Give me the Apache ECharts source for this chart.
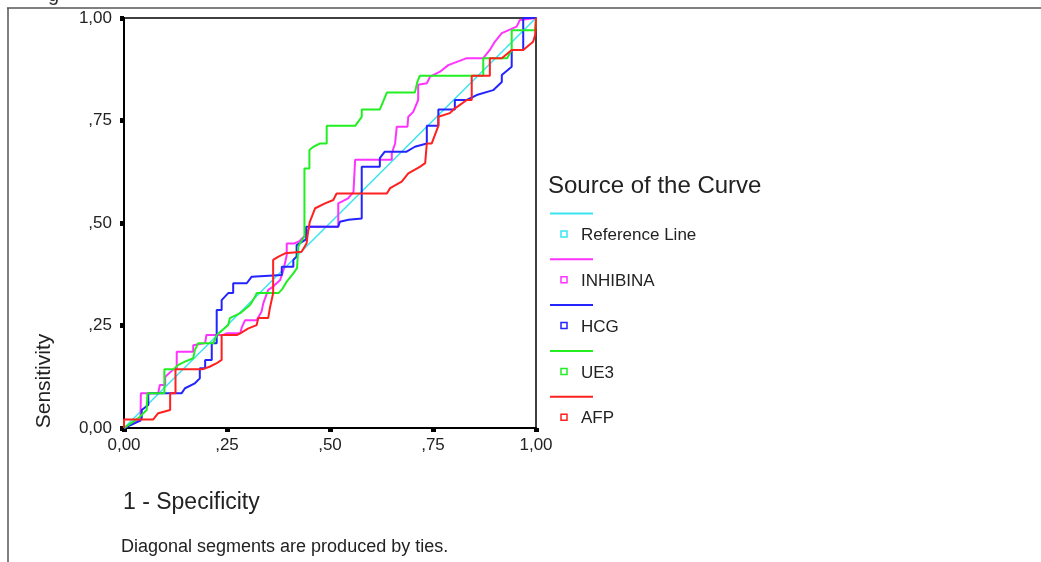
<!DOCTYPE html>
<html>
<head>
<meta charset="utf-8">
<title>ROC Curve</title>
<script src="https://cdn.jsdelivr.net/npm/echarts@6/dist/echarts.min.js"></script>
<style>
  html, body { margin: 0; padding: 0; background: #fff; }
  #chart { width: 1041px; height: 562px; }
</style>
</head>
<body>
<div id="chart"></div>
<script>
// tick labels (SPSS style, comma decimals)
var tickLabels = ['0,00', ',25', ',50', ',75', '1,00'];

var seriesNames = ['Reference Line', 'INHIBINA', 'HCG', 'UE3', 'AFP'];
var seriesColors = ['#3ae4f0', '#ff33ff', '#2424ff', '#22ee22', '#ff2020'];

// [1 - specificity, sensitivity]
var refLine = [[0, 0], [1, 1]];

var inhibina = [[0, 0], [0.04, 0.02], [0.041, 0.085], [0.083, 0.085], [0.087, 0.105], [0.1, 0.105], [0.1, 0.125],
  [0.12, 0.143], [0.128, 0.143], [0.128, 0.186], [0.168, 0.186], [0.168, 0.202], [0.197, 0.207], [0.2, 0.227],
  [0.241, 0.227], [0.249, 0.231], [0.282, 0.231], [0.286, 0.246], [0.294, 0.263], [0.322, 0.263], [0.334, 0.284],
  [0.338, 0.304], [0.35, 0.337], [0.362, 0.345], [0.379, 0.361], [0.387, 0.385], [0.395, 0.422], [0.395, 0.45],
  [0.413, 0.45], [0.425, 0.455], [0.44, 0.47], [0.451, 0.491], [0.52, 0.491], [0.52, 0.548], [0.544, 0.56],
  [0.557, 0.576], [0.561, 0.576], [0.561, 0.654], [0.65, 0.654], [0.65, 0.67], [0.658, 0.694], [0.662, 0.735],
  [0.688, 0.735], [0.69, 0.759], [0.702, 0.771], [0.714, 0.8], [0.714, 0.837], [0.735, 0.841], [0.743, 0.857],
  [0.767, 0.869], [0.787, 0.885], [0.808, 0.893], [0.832, 0.902], [0.872, 0.902], [0.888, 0.922], [0.9, 0.942],
  [0.917, 0.963], [0.953, 0.979], [0.961, 0.995], [1, 1]];

var hcg = [[0, 0], [0.04, 0.018], [0.043, 0.024], [0.043, 0.044], [0.059, 0.056], [0.059, 0.085], [0.14, 0.085],
  [0.148, 0.097], [0.172, 0.109], [0.184, 0.121], [0.184, 0.146], [0.197, 0.146], [0.197, 0.166], [0.213, 0.166],
  [0.213, 0.207], [0.225, 0.207], [0.225, 0.288], [0.237, 0.288], [0.237, 0.312], [0.253, 0.329], [0.265, 0.329],
  [0.265, 0.353], [0.298, 0.353], [0.31, 0.369], [0.383, 0.373], [0.383, 0.393], [0.411, 0.393], [0.411, 0.41],
  [0.419, 0.418], [0.419, 0.446], [0.442, 0.46], [0.442, 0.491], [0.52, 0.491], [0.524, 0.503], [0.545, 0.508],
  [0.577, 0.511], [0.577, 0.637], [0.621, 0.637], [0.621, 0.658], [0.633, 0.674], [0.686, 0.674], [0.706, 0.686],
  [0.735, 0.694], [0.735, 0.737], [0.763, 0.737], [0.763, 0.777], [0.803, 0.777], [0.803, 0.8], [0.832, 0.8],
  [0.856, 0.812], [0.896, 0.824], [0.917, 0.844], [0.917, 0.861], [0.941, 0.881], [0.941, 0.922], [0.969, 0.922],
  [0.969, 1], [1, 1]];

var ue3 = [[0, 0], [0.035, 0.024], [0.055, 0.044], [0.057, 0.085], [0.098, 0.085], [0.098, 0.143], [0.12, 0.143],
  [0.132, 0.154], [0.148, 0.162], [0.168, 0.17], [0.172, 0.19], [0.18, 0.207], [0.217, 0.207], [0.225, 0.227],
  [0.253, 0.251], [0.257, 0.268], [0.282, 0.28], [0.306, 0.3], [0.318, 0.32], [0.322, 0.329], [0.375, 0.329],
  [0.385, 0.34], [0.395, 0.357], [0.411, 0.377], [0.42, 0.39], [0.423, 0.442], [0.427, 0.45], [0.438, 0.467],
  [0.438, 0.633], [0.45, 0.633], [0.45, 0.678], [0.46, 0.686], [0.476, 0.694], [0.492, 0.694], [0.492, 0.737],
  [0.561, 0.737], [0.577, 0.759], [0.577, 0.777], [0.621, 0.777], [0.629, 0.796], [0.638, 0.818], [0.706, 0.818],
  [0.712, 0.844], [0.718, 0.859], [0.872, 0.859], [0.872, 0.902], [0.93, 0.902], [0.941, 0.922], [0.941, 0.97],
  [0.998, 0.97], [1, 1]];

var afp = [[0, 0], [0, 0.021], [0.071, 0.021], [0.083, 0.036], [0.112, 0.044], [0.112, 0.085], [0.125, 0.085],
  [0.125, 0.143], [0.19, 0.143], [0.209, 0.15], [0.225, 0.158], [0.237, 0.166], [0.237, 0.227], [0.275, 0.227],
  [0.282, 0.231], [0.302, 0.243], [0.322, 0.251], [0.326, 0.268], [0.35, 0.268], [0.354, 0.292], [0.362, 0.329],
  [0.362, 0.41], [0.375, 0.418], [0.391, 0.426], [0.431, 0.43], [0.443, 0.45], [0.447, 0.48], [0.451, 0.503],
  [0.464, 0.536], [0.488, 0.548], [0.508, 0.556], [0.516, 0.572], [0.638, 0.572], [0.646, 0.585], [0.674, 0.601],
  [0.69, 0.621], [0.718, 0.637], [0.731, 0.646], [0.735, 0.694], [0.747, 0.694], [0.763, 0.737], [0.763, 0.759],
  [0.791, 0.768], [0.8, 0.777], [0.832, 0.8], [0.844, 0.8], [0.844, 0.859], [0.888, 0.859], [0.888, 0.902],
  [0.917, 0.902], [0.941, 0.922], [0.969, 0.922], [0.993, 0.942], [0.998, 0.959], [1, 1]];

var curves = [refLine, inhibina, hcg, ue3, afp];

var FONT = '"Liberation Sans", Arial, sans-serif';

function fmtTick(v) {
  return tickLabels[Math.round(v * 4)];
}

function axisOpt(margin) {
  return {
    type: 'value',
    min: 0,
    max: 1,
    interval: 0.25,
    axisLine: { lineStyle: { color: '#000', width: 2 } },
    axisTick: { show: true, length: 4, lineStyle: { color: '#000', width: 5 } },
    splitLine: { show: false },
    axisLabel: { formatter: fmtTick, color: '#222', fontSize: 17, fontFamily: FONT, margin: margin }
  };
}

// legend drawn SPSS-like: line on one row, marker + name on the next
function legendGraphics() {
  var items = [];
  for (var i = 0; i < seriesNames.length; i++) {
    var dy = i * 45.8;
    items.push({
      type: 'line',
      shape: { x1: 550, y1: 213.5 + dy, x2: 593, y2: 213.5 + dy },
      style: { stroke: seriesColors[i], lineWidth: 2 }
    });
    items.push({
      type: 'rect',
      shape: { x: 561, y: 231 + dy, width: 6, height: 6 },
      style: { fill: '#fff', stroke: seriesColors[i], lineWidth: 1.5 }
    });
    items.push({
      type: 'text',
      x: 581, y: 235.6 + dy,
      style: { text: seriesNames[i], font: '17px ' + FONT, fill: '#222', verticalAlign: 'middle' }
    });
  }
  return items;
}

var myChart = echarts.init(document.getElementById('chart'));

var option = {
  backgroundColor: '#fff',
  animation: false,
  grid: {
    left: 124, top: 18, width: 412, height: 410,
    show: true, borderColor: '#000', borderWidth: 1.5, backgroundColor: 'transparent'
  },
  xAxis: axisOpt(9),
  yAxis: axisOpt(12),
  series: curves.map(function (d, i) {
    return {
      name: seriesNames[i],
      type: 'line',
      data: d,
      showSymbol: false,
      lineStyle: { color: seriesColors[i], width: i === 0 ? 1.5 : 2 },
      itemStyle: { color: seriesColors[i] }
    };
  }),
  graphic: [
    // outer frame (scan edge)
    { type: 'line', shape: { x1: 7, y1: 8, x2: 1041, y2: 8 }, style: { stroke: '#555', lineWidth: 1.5 } },
    { type: 'line', shape: { x1: 8, y1: 8, x2: 8, y2: 562 }, style: { stroke: '#555', lineWidth: 1.5 } },
    { type: 'text', x: 48, y: 5, style: { text: 'g', font: '20px ' + FONT, fill: '#333', verticalAlign: 'bottom' } },
    {
      type: 'text', x: 44, y: 381, rotation: Math.PI / 2,
      style: { text: 'Sensitivity', font: '21px ' + FONT, fill: '#222', align: 'center', verticalAlign: 'middle' }
    },
    { type: 'text', x: 123, y: 503, style: { text: '1 - Specificity', font: '23px ' + FONT, fill: '#222', verticalAlign: 'middle' } },
    { type: 'text', x: 121, y: 547, style: { text: 'Diagonal segments are produced by ties.', font: '18px ' + FONT, fill: '#222', verticalAlign: 'middle' } },
    { type: 'text', x: 548, y: 186.5, style: { text: 'Source of the Curve', font: '24px ' + FONT, fill: '#222', verticalAlign: 'middle' } }
  ].concat(legendGraphics())
};

myChart.setOption(option);
</script>
</body>
</html>
